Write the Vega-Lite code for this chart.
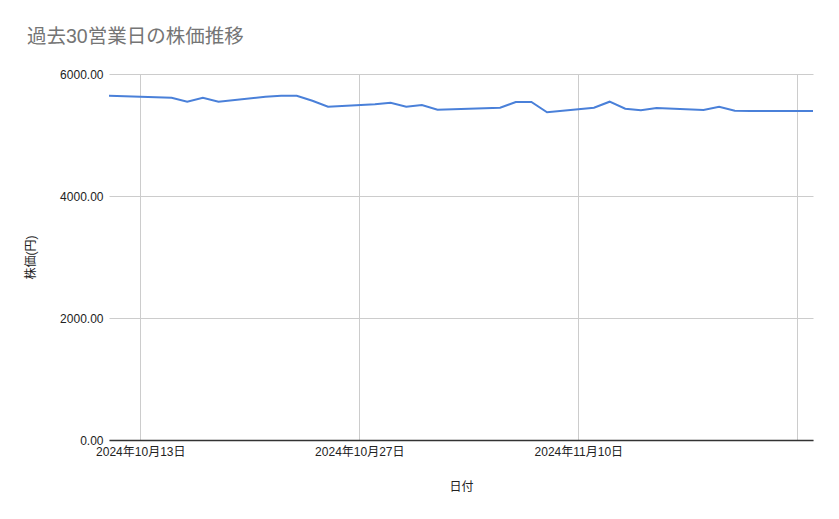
{
  "$schema": "https://vega.github.io/schema/vega-lite/v6.json",
  "width": 704,
  "height": 366,
  "autosize": "none",
  "padding": {"left": 109, "top": 74, "right": 26, "bottom": 79},
  "background": "white",
  "title": {
    "text": "過去30営業日の株価推移",
    "anchor": "start",
    "frame": "group",
    "dx": -82,
    "offset": 21,
    "fontSize": 19.5,
    "fontWeight": "normal",
    "color": "#757575",
    "font": "Liberation Sans, Noto Sans CJK JP"
  },
  "config": {
    "view": {"stroke": null},
    "font": "Liberation Sans, Noto Sans CJK JP"
  },
  "data": {
    "values": [
      {"date": "2024-10-11", "price": 5644},
      {"date": "2024-10-15", "price": 5612},
      {"date": "2024-10-16", "price": 5546},
      {"date": "2024-10-17", "price": 5612},
      {"date": "2024-10-18", "price": 5546},
      {"date": "2024-10-21", "price": 5628},
      {"date": "2024-10-22", "price": 5644},
      {"date": "2024-10-23", "price": 5644},
      {"date": "2024-10-24", "price": 5562},
      {"date": "2024-10-25", "price": 5464},
      {"date": "2024-10-28", "price": 5503},
      {"date": "2024-10-29", "price": 5530},
      {"date": "2024-10-30", "price": 5464},
      {"date": "2024-10-31", "price": 5492},
      {"date": "2024-11-01", "price": 5415},
      {"date": "2024-11-05", "price": 5448},
      {"date": "2024-11-06", "price": 5541},
      {"date": "2024-11-07", "price": 5541},
      {"date": "2024-11-08", "price": 5372},
      {"date": "2024-11-11", "price": 5448},
      {"date": "2024-11-12", "price": 5546},
      {"date": "2024-11-13", "price": 5431},
      {"date": "2024-11-14", "price": 5405},
      {"date": "2024-11-15", "price": 5443},
      {"date": "2024-11-18", "price": 5410},
      {"date": "2024-11-19", "price": 5464},
      {"date": "2024-11-20", "price": 5399},
      {"date": "2024-11-21", "price": 5394},
      {"date": "2024-11-22", "price": 5394},
      {"date": "2024-11-25", "price": 5394}
    ]
  },
  "mark": {"type": "line", "color": "#4a80d9", "strokeWidth": 2},
  "encoding": {
    "x": {
      "field": "date",
      "type": "temporal",
      "title": "日付",
      "scale": {
        "type": "utc",
        "domain": [
          {"year": 2024, "month": 10, "date": 11, "utc": true},
          {"year": 2024, "month": 11, "date": 25, "utc": true}
        ]
      },
      "axis": {
        "values": [
          {"year": 2024, "month": 10, "date": 13, "utc": true},
          {"year": 2024, "month": 10, "date": 27, "utc": true},
          {"year": 2024, "month": 11, "date": 10, "utc": true},
          {"year": 2024, "month": 11, "date": 24, "utc": true}
        ],
        "labelExpr": "utcFormat(datum.value, '%m%d') == '1124' ? '' : utcFormat(datum.value, '%Y年%-m月%-d日')",
        "labelFontSize": 12,
        "labelColor": "#222222",
        "labelPadding": 6,
        "labelFlush": false,
        "ticks": false,
        "grid": true,
        "gridColor": "#cccccc",
        "domainColor": "#333333",
        "domainWidth": 1.5,
        "titleFontSize": 12,
        "titleFontWeight": "normal",
        "titleColor": "#222222",
        "titlePadding": 24
      }
    },
    "y": {
      "field": "price",
      "type": "quantitative",
      "title": "株価(円)",
      "scale": {"domain": [0, 6000]},
      "axis": {
        "values": [0, 2000, 4000, 6000],
        "format": ".2f",
        "labelFontSize": 12,
        "labelColor": "#222222",
        "labelPadding": 6,
        "ticks": false,
        "domain": false,
        "grid": true,
        "gridColor": "#cccccc",
        "titleFontSize": 12,
        "titleFontWeight": "normal",
        "titleColor": "#222222",
        "titlePadding": 22
      }
    }
  }
}
